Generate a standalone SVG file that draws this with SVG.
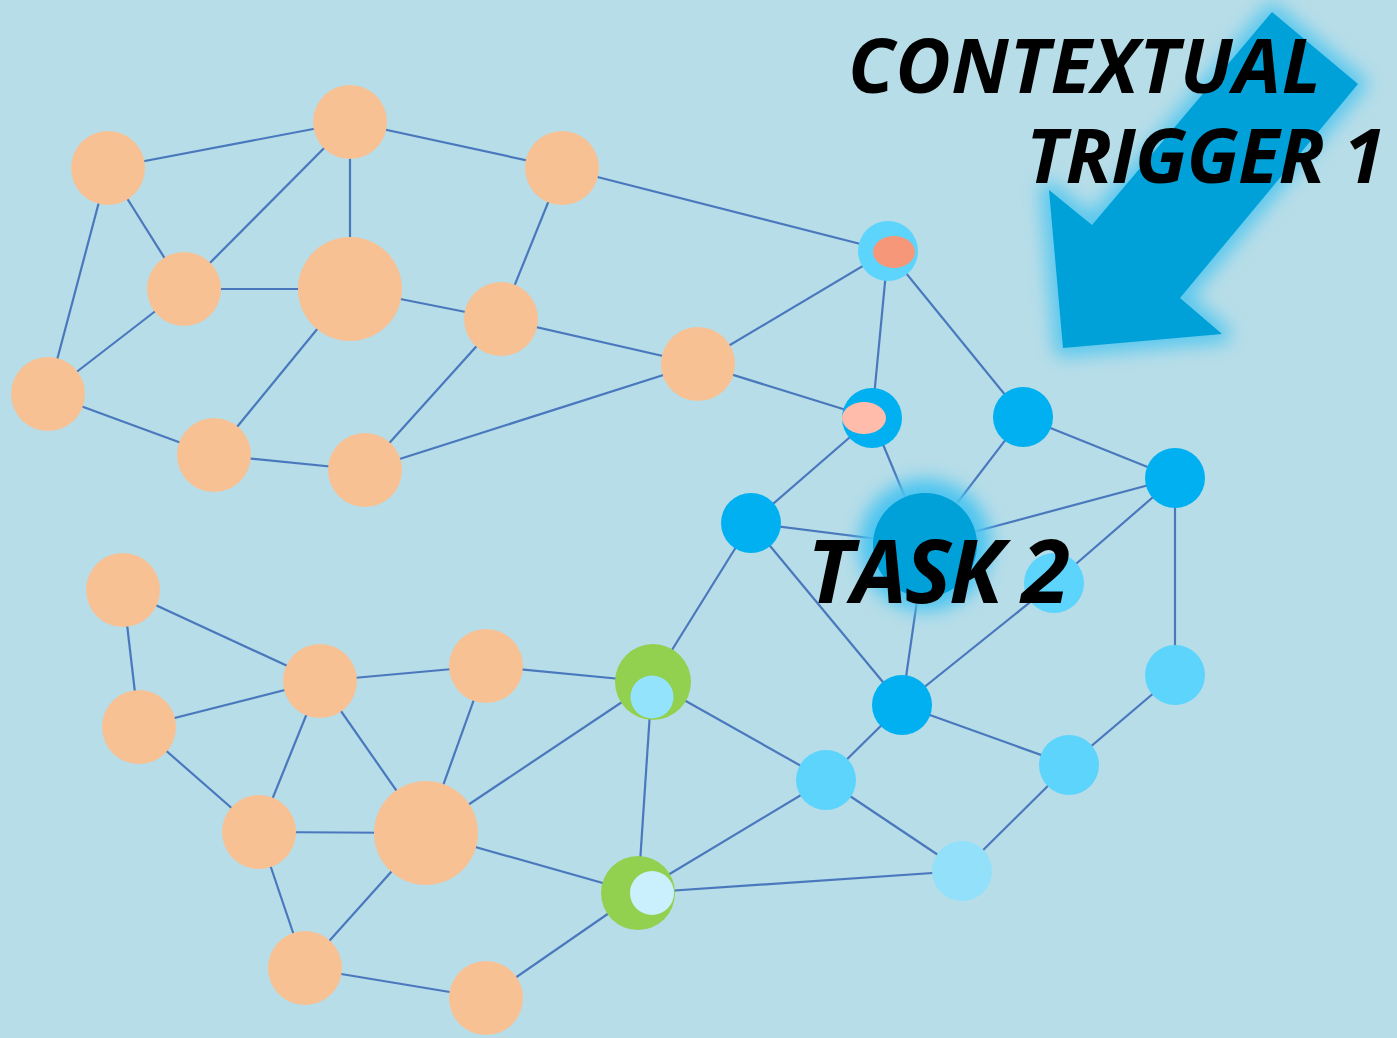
<svg xmlns="http://www.w3.org/2000/svg" width="1397" height="1038" viewBox="0 0 1397 1038">
<defs>
<style>
.e{stroke:#4a78bd;stroke-width:2.2;fill:none}
.o{fill:#f8c194}
.b{fill:#00b0f0}
.lb{fill:#5dd4fc}
.vb{fill:#92e0fa}
.g{fill:#92d050}
.t{font-family:"Open Sans","DejaVu Sans",sans-serif;font-weight:700;font-style:italic;fill:#000}
</style>
<filter id="blur" x="-50%" y="-50%" width="200%" height="200%"><feGaussianBlur stdDeviation="9"/></filter>
</defs>
<rect width="1397" height="1038" fill="#b7dde8"/>
<g id="connectors">
<line class="e" x1="108" y1="168" x2="350" y2="122"/>
<line class="e" x1="350" y1="122" x2="562" y2="168"/>
<line class="e" x1="562" y1="168" x2="888" y2="251"/>
<line class="e" x1="108" y1="168" x2="184" y2="289"/>
<line class="e" x1="108" y1="168" x2="48" y2="394"/>
<line class="e" x1="350" y1="122" x2="184" y2="289"/>
<line class="e" x1="350" y1="122" x2="350" y2="289"/>
<line class="e" x1="184" y1="289" x2="350" y2="289"/>
<line class="e" x1="184" y1="289" x2="48" y2="394"/>
<line class="e" x1="350" y1="289" x2="501" y2="319"/>
<line class="e" x1="350" y1="289" x2="214" y2="455"/>
<line class="e" x1="501" y1="319" x2="562" y2="168"/>
<line class="e" x1="501" y1="319" x2="698" y2="364"/>
<line class="e" x1="501" y1="319" x2="365" y2="470"/>
<line class="e" x1="698" y1="364" x2="888" y2="251"/>
<line class="e" x1="698" y1="364" x2="872" y2="418"/>
<line class="e" x1="48" y1="394" x2="214" y2="455"/>
<line class="e" x1="214" y1="455" x2="365" y2="470"/>
<line class="e" x1="365" y1="470" x2="698" y2="364"/>
<line class="e" x1="888" y1="251" x2="872" y2="418"/>
<line class="e" x1="888" y1="251" x2="1023" y2="417"/>
<line class="e" x1="872" y1="418" x2="751" y2="523"/>
<line class="e" x1="872" y1="418" x2="925" y2="545"/>
<line class="e" x1="1023" y1="417" x2="925" y2="545"/>
<line class="e" x1="1023" y1="417" x2="1175" y2="478"/>
<line class="e" x1="1175" y1="478" x2="925" y2="545"/>
<line class="e" x1="1175" y1="478" x2="1054" y2="583"/>
<line class="e" x1="1175" y1="478" x2="1175" y2="675"/>
<line class="e" x1="751" y1="523" x2="925" y2="545"/>
<line class="e" x1="751" y1="523" x2="902" y2="705"/>
<line class="e" x1="925" y1="545" x2="902" y2="705"/>
<line class="e" x1="1054" y1="583" x2="902" y2="705"/>
<line class="e" x1="902" y1="705" x2="826" y2="780"/>
<line class="e" x1="902" y1="705" x2="1069" y2="765"/>
<line class="e" x1="1175" y1="675" x2="1069" y2="765"/>
<line class="e" x1="1069" y1="765" x2="962" y2="871"/>
<line class="e" x1="826" y1="780" x2="962" y2="871"/>
<line class="e" x1="751" y1="523" x2="652" y2="682"/>
<line class="e" x1="652" y1="682" x2="826" y2="780"/>
<line class="e" x1="652" y1="682" x2="638" y2="893"/>
<line class="e" x1="638" y1="893" x2="826" y2="780"/>
<line class="e" x1="638" y1="893" x2="962" y2="871"/>
<line class="e" x1="123" y1="590" x2="139" y2="727"/>
<line class="e" x1="123" y1="590" x2="320" y2="681"/>
<line class="e" x1="139" y1="727" x2="320" y2="681"/>
<line class="e" x1="139" y1="727" x2="259" y2="832"/>
<line class="e" x1="320" y1="681" x2="486" y2="666"/>
<line class="e" x1="320" y1="681" x2="259" y2="832"/>
<line class="e" x1="320" y1="681" x2="426" y2="833"/>
<line class="e" x1="486" y1="666" x2="426" y2="833"/>
<line class="e" x1="486" y1="666" x2="652" y2="682"/>
<line class="e" x1="259" y1="832" x2="426" y2="833"/>
<line class="e" x1="259" y1="832" x2="305" y2="968"/>
<line class="e" x1="426" y1="833" x2="652" y2="682"/>
<line class="e" x1="426" y1="833" x2="638" y2="893"/>
<line class="e" x1="426" y1="833" x2="305" y2="968"/>
<line class="e" x1="305" y1="968" x2="486" y2="998"/>
<line class="e" x1="486" y1="998" x2="638" y2="893"/>
</g>
<g id="n1"><circle class="o" cx="108" cy="168" r="37"/></g>
<g id="n2"><circle class="o" cx="350" cy="122" r="37"/></g>
<g id="n3"><circle class="o" cx="562" cy="168" r="37"/></g>
<g id="n4"><circle class="o" cx="184" cy="289" r="37"/></g>
<g id="n5"><circle class="o" cx="350" cy="289" r="52"/></g>
<g id="n6"><circle class="o" cx="501" cy="319" r="37"/></g>
<g id="n7"><circle class="o" cx="698" cy="364" r="37"/></g>
<g id="n8"><circle class="o" cx="48" cy="394" r="37"/></g>
<g id="n9"><circle class="o" cx="214" cy="455" r="37"/></g>
<g id="n10"><circle class="o" cx="365" cy="470" r="37"/></g>
<g id="n11"><circle class="lb" cx="888" cy="251" r="30"/><ellipse cx="894" cy="252" rx="21" ry="16" fill="#f7977a"/></g>
<g id="n12"><circle class="b" cx="872" cy="418" r="30"/><ellipse cx="864" cy="418" rx="22" ry="16" fill="#ffbcaa"/></g>
<g id="n13"><circle class="b" cx="1023" cy="417" r="30"/></g>
<g id="n14"><circle class="b" cx="1175" cy="478" r="30"/></g>
<g id="n15"><circle class="b" cx="751" cy="523" r="30"/></g>
<g id="n16"><circle cx="925" cy="545" r="66" fill="#4cc4f0" filter="url(#blur)"/><circle cx="925" cy="545" r="52" fill="#00a0d8"/></g>
<g id="n17"><circle class="lb" cx="1054" cy="583" r="30"/></g>
<g id="n18"><circle class="b" cx="902" cy="705" r="30"/></g>
<g id="n19"><circle class="lb" cx="1175" cy="675" r="30"/></g>
<g id="n20"><circle class="lb" cx="1069" cy="765" r="30"/></g>
<g id="n21"><circle class="lb" cx="826" cy="780" r="30"/></g>
<g id="n22"><circle class="vb" cx="962" cy="871" r="30"/></g>
<g id="n23"><circle class="g" cx="653" cy="682" r="38"/><circle cx="652" cy="697" r="21.5" fill="#94e3fc"/></g>
<g id="n24"><circle class="g" cx="638" cy="893" r="37"/><circle cx="652" cy="893" r="22" fill="#c9f0fc"/></g>
<g id="n25"><circle class="o" cx="123" cy="590" r="37"/></g>
<g id="n26"><circle class="o" cx="139" cy="727" r="37"/></g>
<g id="n27"><circle class="o" cx="320" cy="681" r="37"/></g>
<g id="n28"><circle class="o" cx="486" cy="666" r="37"/></g>
<g id="n29"><circle class="o" cx="259" cy="832" r="37"/></g>
<g id="n30"><circle class="o" cx="426" cy="833" r="52"/></g>
<g id="n31"><circle class="o" cx="305" cy="968" r="37"/></g>
<g id="n32"><circle class="o" cx="486" cy="998" r="37"/></g>
<g id="arrow">
<polygon points="1272,12 1358,84 1180,298 1222,334 1063,348 1049,190 1092,225" fill="#5ac8ee" stroke="#5ac8ee" stroke-width="18" stroke-linejoin="round" filter="url(#blur)"/>
<polygon points="1272,12 1358,84 1180,298 1222,334 1063,348 1049,190 1092,225" fill="#00a0d8"/>
</g>
<g id="labels">
<text class="t" x="848" y="93" font-size="76" textLength="473" lengthAdjust="spacing">CONTEXTUAL</text>
<text class="t" x="1026" y="183" font-size="76" textLength="359" lengthAdjust="spacing">TRIGGER 1</text>
<text class="t" x="807" y="603" font-size="88" textLength="263" lengthAdjust="spacing">TASK 2</text>
</g>
</svg>
